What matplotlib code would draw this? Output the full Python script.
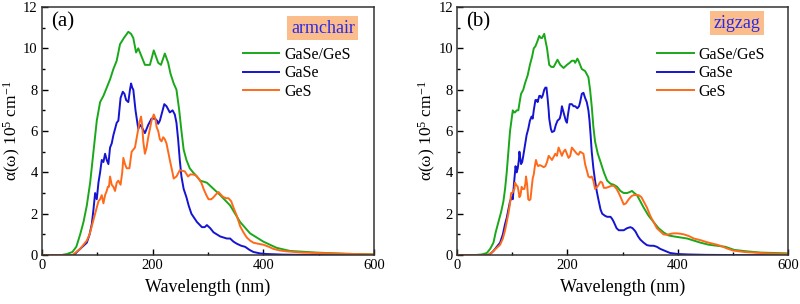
import matplotlib
matplotlib.use('Agg')
import matplotlib.pyplot as plt
from matplotlib.ticker import MultipleLocator

plt.rcParams['font.family'] = 'serif'
plt.rcParams['font.serif'] = ['Liberation Serif', 'DejaVu Serif']
plt.rcParams['mathtext.fontset'] = 'custom'
plt.rcParams['mathtext.rm'] = 'Liberation Serif'
plt.rcParams['mathtext.it'] = 'Liberation Serif:italic'

# ---- panel (a) armchair ----
a_hetero_x = [0, 35, 45, 55, 62, 69, 75, 81, 87, 93, 99, 105, 111, 117, 123, 129, 135, 141, 148, 156, 161, 165,
              170, 174, 180, 186, 195, 202, 210, 215, 222, 228, 232, 238, 243, 248, 252, 256, 261, 267, 273, 280,
              286, 298, 310, 322, 340, 358, 376, 400, 424, 448, 496, 550, 600]
a_hetero_y = [0, 0, 0.05, 0.15, 0.4, 1.0, 1.6, 2.4, 3.5, 5.0, 6.5, 7.4, 7.7, 8.1, 8.5, 9.0, 9.4, 10.2, 10.5, 10.8, 10.7, 10.5,
              9.8, 10.0, 9.6, 9.2, 9.2, 9.9, 9.3, 9.2, 9.75, 9.3, 8.8, 8.3, 8.0, 7.0, 6.0, 5.1, 4.6, 4.2, 4.0, 3.8,
              3.6, 3.5, 3.2, 2.9, 2.4, 1.6, 1.05, 0.65, 0.35, 0.2, 0.12, 0.06, 0.03]

a_gase_x = [0, 58, 63, 69, 75, 81, 86, 90, 93, 96, 99, 102, 105, 108, 111, 114, 117, 120, 123, 126, 129, 132, 135,
            138, 142, 146, 149, 152, 156, 159, 161, 163, 165, 169, 174, 177, 180, 186, 192, 198, 204, 208, 210, 213,
            217, 221, 225, 231, 236, 240, 243, 246, 249, 252, 256, 261, 265, 270, 280, 289, 294, 298, 304, 310, 316,
            322, 328, 334, 340, 346, 352, 360, 367, 375, 382, 394, 406, 436, 500, 600]
a_gase_y = [0, 0, 0.15, 0.3, 0.45, 0.6, 1.0, 1.5, 2.2, 3.0, 2.7, 3.5, 4.0, 4.6, 4.5, 4.9, 4.6, 4.4, 5.2, 5.4, 5.8, 6.1, 6.4,
            6.5, 7.6, 7.9, 7.8, 7.5, 7.4, 8.0, 8.3, 8.1, 8.0, 7.0, 6.1, 6.3, 6.2, 5.9, 6.3, 6.6, 6.6, 6.5, 6.35, 6.5,
            6.9, 7.3, 7.2, 6.9, 7.0, 6.8, 6.4, 5.6, 4.6, 3.8, 3.2, 2.8, 2.4, 2.0, 1.6, 1.35, 1.35, 1.45, 1.3, 1.1, 1.0,
            0.9, 0.85, 0.8, 0.8, 0.65, 0.55, 0.45, 0.4, 0.25, 0.15, 0.08, 0.05, 0.02, 0.0, 0.0]

a_ges_x = [0, 55, 62, 69, 75, 81, 86, 90, 95, 99, 102, 105, 108, 111, 114, 117, 119, 121, 123, 126, 129, 132, 135,
           138, 142, 145, 147, 150, 153, 158, 162, 165, 168, 172, 176, 179, 181, 183, 186, 189, 192, 195, 198, 202,
           205, 207, 210, 213, 216, 219, 222, 225, 228, 231, 235, 238, 243, 249, 258, 264, 268, 273, 278, 283, 288,
           292, 297, 301, 306, 310, 315, 319, 324, 328, 333, 337, 342, 346, 352, 358, 364, 370, 376, 382, 390, 400,
           410, 418, 430, 442, 470, 496, 550, 600]
a_ges_y = [0, 0, 0.15, 0.3, 0.5, 0.7, 1.0, 1.4, 1.9, 2.3, 2.6, 2.7, 2.9, 2.5, 2.9, 3.1, 3.3, 3.3, 3.8, 3.4, 3.3, 3.1, 3.5,
           3.6, 3.4, 4.0, 4.7, 4.4, 4.2, 4.2, 5.0, 5.1, 5.2, 5.8, 6.4, 6.7, 6.3, 5.5, 4.9, 5.2, 5.7, 6.1, 6.5, 6.8,
           6.6, 6.2, 6.0, 5.6, 5.5, 5.7, 5.6, 5.4, 5.0, 4.6, 4.1, 3.7, 3.8, 4.1, 4.05, 3.8, 3.9, 3.9, 3.85, 3.7, 3.5,
           3.2, 2.9, 2.7, 2.7, 2.8, 2.95, 3.05, 2.9, 2.8, 2.75, 2.75, 2.6, 2.3, 1.9, 1.4, 1.1, 0.85, 0.7, 0.6, 0.55, 0.5,
           0.4, 0.3, 0.22, 0.18, 0.12, 0.1, 0.06, 0.03]

# ---- panel (b) zigzag ----
b_hetero_x = [0, 33, 45, 54, 60, 66, 70, 75, 80, 84, 87, 90, 93, 96, 99, 101, 103, 105, 108, 111, 114, 116, 120, 123,
              128, 132, 136, 139, 142, 145, 149, 152, 154, 158, 160, 163, 167, 171, 175, 179, 182, 187, 193, 199, 204,
              208, 212, 214, 218, 220, 223, 226, 232, 238, 241, 244, 247, 250, 255, 260, 266, 272, 278, 284, 290, 296,
              302, 308, 313, 317, 321, 326, 332, 338, 347, 356, 365, 374, 383, 393, 405, 417, 429, 441, 456, 471, 486,
              502, 525, 550, 575, 600]
b_hetero_y = [0, 0, 0.03, 0.1, 0.3, 0.6, 1.1, 1.6, 2.1, 2.6, 3.2, 4.0, 5.0, 6.0, 6.6, 7.0, 6.9, 6.9, 7.0, 7.0, 7.5, 7.8, 8.0, 8.3,
              8.7, 9.2, 9.6, 10.0, 10.1, 10.3, 10.6, 10.5, 10.5, 10.7, 10.4, 10.0, 9.2, 9.1, 9.1, 9.3, 9.45, 9.2, 9.05, 9.2, 9.3,
              9.4, 9.4, 9.3, 9.5, 9.4, 9.2, 9.0, 8.9, 8.6, 8.0, 7.2, 6.2, 5.5, 4.9, 4.5, 4.0, 3.6, 3.45, 3.4, 3.3, 3.1,
              3.0, 3.0, 3.05, 3.1, 3.0, 2.9, 2.6, 2.3, 1.9, 1.6, 1.3, 1.1, 0.95, 0.9, 0.85, 0.8, 0.7, 0.6, 0.5, 0.45, 0.4,
              0.25, 0.18, 0.12, 0.1, 0.08]

b_gase_x = [0, 57, 62, 66, 72, 78, 83, 87, 90, 93, 96, 99, 101, 103, 105, 106, 108, 110, 112, 113, 115, 116, 118, 120,
            123, 126, 129, 132, 135, 137, 139, 142, 144, 146, 149, 151, 153, 155, 158, 160, 162, 164, 166, 167, 170,
            172, 176, 179, 182, 186, 188, 190, 192, 195, 197, 199, 201, 204, 208, 211, 214, 218, 221, 223, 226, 229,
            232, 235, 238, 240, 242, 244, 247, 250, 253, 256, 260, 263, 268, 272, 278, 281, 284, 289, 293, 298, 302,
            308, 314, 318, 323, 328, 332, 338, 344, 350, 356, 362, 368, 377, 386, 400, 417, 450, 500, 600]
b_gase_y = [0, 0, 0.1, 0.2, 0.4, 0.6, 1.0, 1.5, 1.8, 2.2, 2.6, 2.8, 2.7, 3.4, 4.0, 4.3, 4.0, 4.2, 4.6, 5.0, 4.6, 4.4, 4.5, 4.8,
            5.3, 5.8, 6.1, 6.5, 6.7, 6.6, 7.0, 7.5, 7.5, 7.4, 7.7, 7.7, 7.6, 7.7, 8.0, 8.1, 8.1, 7.6, 7.0, 6.6, 6.1,
            5.95, 6.0, 6.3, 6.5, 6.6, 6.8, 7.2, 7.0, 6.7, 6.5, 6.4, 6.8, 7.3, 7.3, 7.2, 7.2, 7.1, 7.2, 7.4, 7.8, 7.85,
            7.6, 7.4, 7.0, 6.5, 5.8, 5.0, 4.2, 3.6, 3.1, 2.7, 2.2, 2.0, 1.9, 1.85, 1.85, 1.75, 1.6, 1.3, 1.2, 1.2, 1.2,
            1.3, 1.35, 1.3, 1.15, 0.9, 0.75, 0.6, 0.48, 0.45, 0.45, 0.4, 0.3, 0.2, 0.1, 0.05, 0.03, 0.01, 0.0, 0.0]

b_ges_x = [0, 55, 62, 66, 72, 78, 83, 87, 90, 93, 96, 98, 100, 102, 104, 105, 107, 110, 112, 113, 115, 117, 119, 122,
           124, 125, 127, 129, 131, 133, 135, 137, 139, 141, 143, 145, 147, 150, 154, 157, 160, 163, 166, 169, 172,
           175, 178, 181, 184, 187, 190, 193, 196, 199, 202, 205, 208, 211, 214, 217, 220, 223, 226, 229, 232, 235,
           238, 241, 244, 247, 250, 254, 260, 263, 266, 270, 275, 280, 284, 289, 293, 298, 302, 306, 311, 316, 320,
           324, 329, 334, 338, 344, 350, 356, 362, 368, 374, 380, 386, 392, 398, 405, 411, 420, 429, 441, 453, 463,
           471, 480, 489, 500, 520, 560, 600]
b_ges_y = [0, 0, 0.1, 0.2, 0.35, 0.5, 0.8, 1.2, 1.6, 2.0, 2.5, 3.0, 3.0, 3.1, 3.2, 3.5, 3.4, 3.3, 3.0, 2.8, 2.9, 3.3, 3.2, 3.2,
           3.5, 3.8, 3.4, 2.7, 2.65, 2.7, 3.2, 3.7, 3.9, 4.3, 4.6, 4.4, 4.3, 4.35, 4.3, 4.25, 4.3, 4.5, 4.8, 4.7, 4.6,
           4.75, 4.9, 4.8, 5.2, 5.0, 4.8, 5.0, 5.1, 4.9, 4.7, 4.8, 5.2, 5.1, 5.0, 4.9, 4.85, 5.0, 4.95, 4.9, 4.4, 4.1,
           3.8, 3.75, 3.8, 3.6, 3.2, 3.3, 3.55, 3.5, 3.25, 3.25, 3.3, 3.35, 3.35, 3.2, 3.0, 2.7, 2.45, 2.5, 2.7, 2.85,
           2.9, 2.9, 2.9, 2.8, 2.6, 2.3, 1.9, 1.6, 1.3, 1.15, 1.0, 0.98, 1.02, 1.05, 1.05, 1.03, 1.0, 0.92, 0.8, 0.72,
           0.62, 0.55, 0.5, 0.42, 0.32, 0.22, 0.15, 0.08, 0.05]

legend_labels = ['GaSe/GeS', 'GaSe', 'GeS']
colors = ['#1aa81a', '#1414d2', '#ff6a1a']
panel_tags = ['(a)', '(b)']
edge_tags = ['armchair', 'zigzag']

fig = plt.figure(figsize=(8.0, 3.04), dpi=100)
ax1 = fig.add_axes([0.0525, 0.161, 0.415, 0.816])
ax2 = fig.add_axes([0.5713, 0.161, 0.414, 0.816])

panels = [
    (ax1, [(a_hetero_x, a_hetero_y), (a_gase_x, a_gase_y), (a_ges_x, a_ges_y)]),
    (ax2, [(b_hetero_x, b_hetero_y), (b_gase_x, b_gase_y), (b_ges_x, b_ges_y)]),
]

for i, (ax, series) in enumerate(panels):
    for (xs, ys), lab, c in zip(series, legend_labels, colors):
        ax.plot(xs, ys, color=c, lw=1.4, label=lab)
    ax.set_xlim(0, 600)
    ax.set_ylim(0, 12)
    ax.xaxis.set_major_locator(MultipleLocator(200))
    ax.xaxis.set_minor_locator(MultipleLocator(100))
    ax.yaxis.set_major_locator(MultipleLocator(2))
    ax.yaxis.set_minor_locator(MultipleLocator(1))
    ax.tick_params(which='both', direction='in', top=False, right=False, labelsize=10.5, pad=3)
    ax.tick_params(which='major', length=4.5, width=1)
    ax.tick_params(which='minor', length=2.5, width=1)
    for sp in ax.spines.values():
        sp.set_color('#333333')
        sp.set_linewidth(1.1)
    ax.set_xlabel('Wavelength (nm)', fontsize=13, labelpad=5)
    ax.set_ylabel('α(ω) 10$^5$ cm$^{-1}$', fontsize=12.5, labelpad=0)
    ax.text(0.027, 0.94, panel_tags[i], transform=ax.transAxes, fontsize=15, va='center', ha='left')
    ax.legend(loc='upper left', bbox_to_anchor=(0.585, 0.865), frameon=False, fontsize=11.5,
              handlelength=2.3, handletextpad=0.3, labelspacing=0.15, borderaxespad=0)

ax1.text(0.846, 0.915, edge_tags[0], transform=ax1.transAxes, fontsize=13, color='#2a2ae6',
         ha='center', va='center',
         bbox=dict(boxstyle='square,pad=0.2', fc='#fbbd8c', ec='none'))
ax2.text(0.846, 0.935, edge_tags[1], transform=ax2.transAxes, fontsize=13, color='#2a2ae6',
         ha='center', va='center',
         bbox=dict(boxstyle='square,pad=0.2', fc='#fbbd8c', ec='none'))

fig.savefig('out.png', dpi=100)
